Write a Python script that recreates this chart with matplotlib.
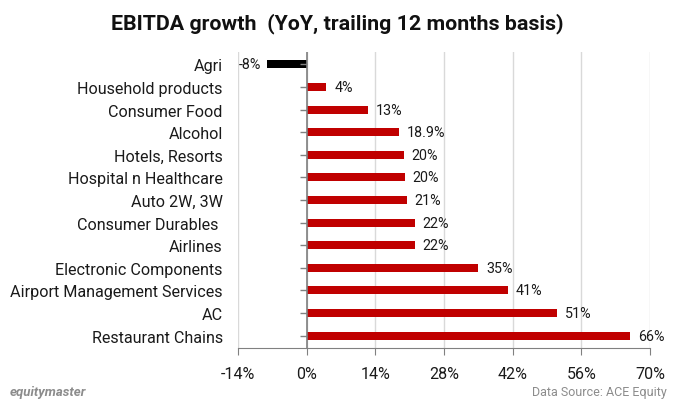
import matplotlib
matplotlib.use("Agg")
import matplotlib.pyplot as plt

categories = ["Agri", "Household products", "Consumer Food", "Alcohol", "Hotels, Resorts",
              "Hospital n Healthcare", "Auto 2W, 3W", "Consumer Durables ", "Airlines",
              "Electronic Components", "Airport Management Services", "AC", "Restaurant Chains"]
values = [-8, 4, 12.5, 18.9, 19.8, 20.0, 20.4, 22, 22, 35, 41, 51, 66]
value_labels = ["-8%", "4%", "13%", "18.9%", "20%", "20%", "21%", "22%", "22%", "35%", "41%", "51%", "66%"]
xticks = [-14, 0, 14, 28, 42, 56, 70]
xtick_labels = ["-14%", "0%", "14%", "28%", "42%", "56%", "70%"]

plt.rcParams['font.family'] = ['Roboto', 'DejaVu Sans']

fig = plt.figure(figsize=(6.75, 4.1), dpi=100)
ax = fig.add_axes([238/675, 1-349/410, (650-238)/675, (349-53)/410])

ys = list(range(len(categories)))
colors = ["#000000" if v < 0 else "#C00000" for v in values]
ax.barh(ys, values, height=0.36, color=colors, zorder=3)
ax.set_ylim(len(categories) - 0.45, -0.55)
ax.set_xlim(-14, 70)

ax.set_xticks(xticks)
ax.set_xticklabels(xtick_labels, fontsize=11.5, color="#1a1a1a")
ax.tick_params(axis='x', length=5, color="#808080", pad=8)
ax.set_yticks(ys)
ax.set_yticklabels(categories, fontsize=11.6, color="#1a1a1a")
ax.tick_params(axis='y', length=0, pad=11)

ax.grid(axis='x', color="#D9D9D9", linewidth=1, zorder=0)
for s in ["top", "right", "left"]:
    ax.spines[s].set_visible(False)
ax.spines["bottom"].set_color("#808080")
ax.axvline(0, color="#808080", linewidth=1.2, zorder=4)
ax.scatter([0]*len(ys), ys, marker=0, s=25, color="#808080", linewidths=1, zorder=4, clip_on=False)

for y, v, lab in zip(ys, values, value_labels):
    if v < 0:
        ax.text(v - 1.2, y, lab, ha='right', va='center', fontsize=10.3, color="#1a1a1a")
    else:
        ax.text(v + 1.6, y, lab, ha='left', va='center', fontsize=10.3, color="#1a1a1a")

fig.text(0.5, 1-24/410, "EBITDA growth  (YoY, trailing 12 months basis)", ha='center', va='center',
         fontsize=15.4, fontweight='bold', color="#111111")
fig.text(10/675, 1-393/410, "equitymaster", ha='left', va='center', fontsize=9.5,
         fontstyle='italic', fontweight='bold', color="#8c8c8c")
fig.text(667/675, 1-393/410, "Data Source: ACE Equity", ha='right', va='center', fontsize=9,
         color="#8c8c8c")

fig.savefig("out.png", dpi=100)
